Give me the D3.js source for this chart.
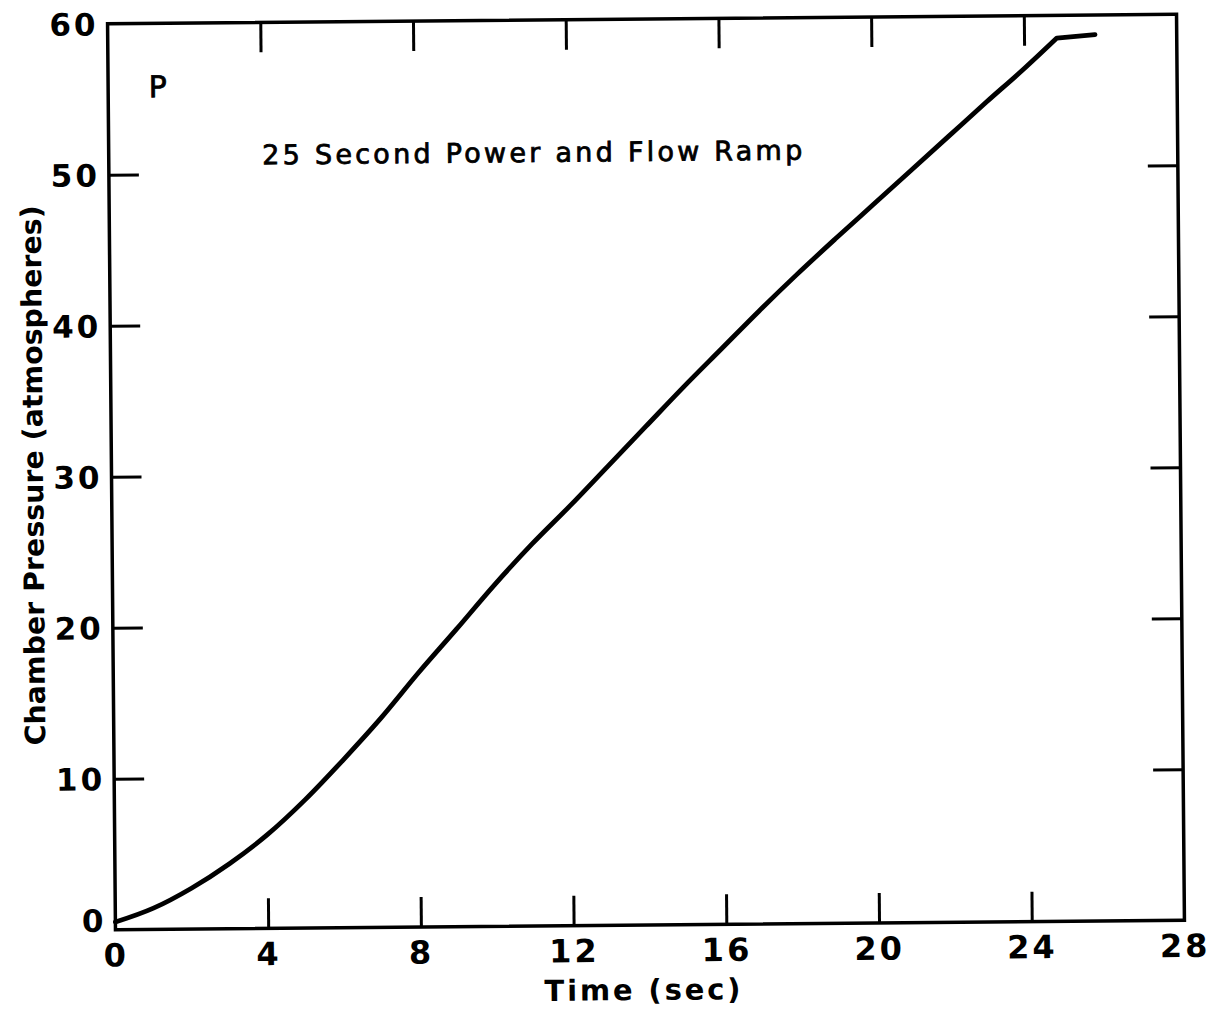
<!DOCTYPE html>
<html>
<head>
<meta charset="utf-8">
<script src="https://cdn.jsdelivr.net/npm/d3@7"></script>
<style>
  html, body { margin: 0; padding: 0; background: #fff; }
  svg { display: block; }
  text { font-family: "DejaVu Sans", sans-serif; fill: #000; }
</style>
</head>
<body>
<svg id="chart" width="1211" height="1017"></svg>
<script>
// Chamber pressure during a 25 second power and flow ramp
const timeSec = [0, 1, 2, 3, 4, 5, 6, 7, 8, 9, 10, 11, 12, 13, 14, 15, 16, 17, 18, 19, 20, 21, 22, 23, 24, 24.86, 25.86];
const pressureAtm = [0.5, 1.4, 2.7, 4.3, 6.2, 8.5, 11.1, 13.85, 16.85, 19.7, 22.6, 25.3, 27.8, 30.4, 33.0, 35.6, 38.1, 40.6, 43.0, 45.3, 47.55, 49.8, 52.05, 54.3, 56.5, 58.5, 58.7];
// the ramp ends here and the pressure levels off
const rampEndIndex = 25;

const xTicks = [0, 4, 8, 12, 16, 20, 24, 28];
const yTicks = [0, 10, 20, 30, 40, 50, 60];
const xTickLabels = ["0", "4", "8", "12", "16", "20", "24", "28"];
const yTickLabels = ["0", "10", "20", "30", "40", "50", "60"];

const xTitle = "Time (sec)";
const yTitle = "Chamber Pressure (atmospheres)";
const plotTitle = "25 Second Power and Flow Ramp";
const panelLetter = "P";

const svg = d3.select("#chart");
const plot = { left: 111.5, right: 1180.5, top: 19, bottom: 925 };
const tickLen = 30;

// the whole sheet sits slightly askew
const root = svg.append("g").attr("transform", "rotate(-0.5, 646, 472)");

const x = d3.scaleLinear().domain([0, 28]).range([plot.left, plot.right]);
const y = d3.scaleLinear().domain([0, 60]).range([plot.bottom, plot.top]);

function styleAxis(g, inner) {
  g.select(".domain").remove();
  g.selectAll(".tick line")
    .attr("stroke", "#000")
    .attr("stroke-width", 3)
    .style("display", d => inner(d) ? null : "none");
}
const innerX = d => d > 0 && d < 28;
const innerY = d => d > 0 && d < 60;

// bottom axis with labels
root.append("g")
  .attr("transform", `translate(0,${plot.bottom})`)
  .call(d3.axisBottom(x).tickValues(xTicks).tickSize(-tickLen).tickPadding(14)
    .tickFormat((d, i) => xTickLabels[i]))
  .call(g => styleAxis(g, innerX))
  .call(g => g.selectAll("text")
    .attr("font-size", 32).attr("font-weight", "bold")
    .attr("letter-spacing", 3).attr("font-family", "DejaVu Sans, sans-serif"));

// top axis, ticks only
root.append("g")
  .attr("transform", `translate(0,${plot.top})`)
  .call(d3.axisTop(x).tickValues(xTicks).tickSize(-tickLen).tickFormat(""))
  .call(g => styleAxis(g, innerX));

// left axis with labels
root.append("g")
  .attr("transform", `translate(${plot.left},0)`)
  .call(d3.axisLeft(y).tickValues(yTicks).tickSize(-tickLen).tickPadding(9)
    .tickFormat((d, i) => yTickLabels[i]))
  .call(g => styleAxis(g, innerY))
  .call(g => g.selectAll("text")
    .attr("font-size", 31).attr("font-weight", "bold")
    .attr("letter-spacing", 3).attr("font-family", "DejaVu Sans, sans-serif")
    .attr("dy", d => d === 0 ? "0.05em" : "0.36em"));

// right axis, ticks only
root.append("g")
  .attr("transform", `translate(${plot.right},0)`)
  .call(d3.axisRight(y).tickValues(yTicks).tickSize(-tickLen).tickFormat(""))
  .call(g => styleAxis(g, innerY));

// frame
root.append("rect")
  .attr("x", plot.left).attr("y", plot.top)
  .attr("width", plot.right - plot.left).attr("height", plot.bottom - plot.top)
  .attr("fill", "none").attr("stroke", "#000").attr("stroke-width", 3.5);

// pressure curve: smooth ramp, then a straight plateau after the kink
const pts = timeSec.map((t, i) => [t, pressureAtm[i]]);
const ramp = d3.line().x(d => x(d[0])).y(d => y(d[1])).curve(d3.curveMonotoneX);
const plateau = d3.line().x(d => x(d[0])).y(d => y(d[1]));

root.append("path")
  .attr("d", ramp(pts.slice(0, rampEndIndex + 1)) + plateau(pts.slice(rampEndIndex)).replace(/^M/, "L"))
  .attr("fill", "none")
  .attr("stroke", "#000")
  .attr("stroke-width", 4.8)
  .attr("stroke-linecap", "round")
  .attr("stroke-linejoin", "round");

// annotations
root.append("text")
  .attr("x", 152).attr("y", 93)
  .attr("font-size", 30)
  .attr("stroke", "#000").attr("stroke-width", 0.8)
  .text(panelLetter);

root.append("text")
  .attr("x", 265).attr("y", 161)
  .attr("font-size", 27)
  .attr("stroke", "#000").attr("stroke-width", 0.8)
  .attr("textLength", 540).attr("lengthAdjust", "spacing")
  .text(plotTitle);

// axis titles
root.append("text")
  .attr("x", 638).attr("y", 1000)
  .attr("text-anchor", "middle")
  .attr("font-size", 29).attr("font-weight", "bold")
  .attr("textLength", 196).attr("lengthAdjust", "spacing")
  .text(xTitle);

root.append("text")
  .attr("transform", "translate(43,470) rotate(-90)")
  .attr("text-anchor", "middle")
  .attr("font-size", 28).attr("font-weight", "bold")
  .attr("textLength", 540).attr("lengthAdjust", "spacingAndGlyphs")
  .text(yTitle);
</script>
</body>
</html>
